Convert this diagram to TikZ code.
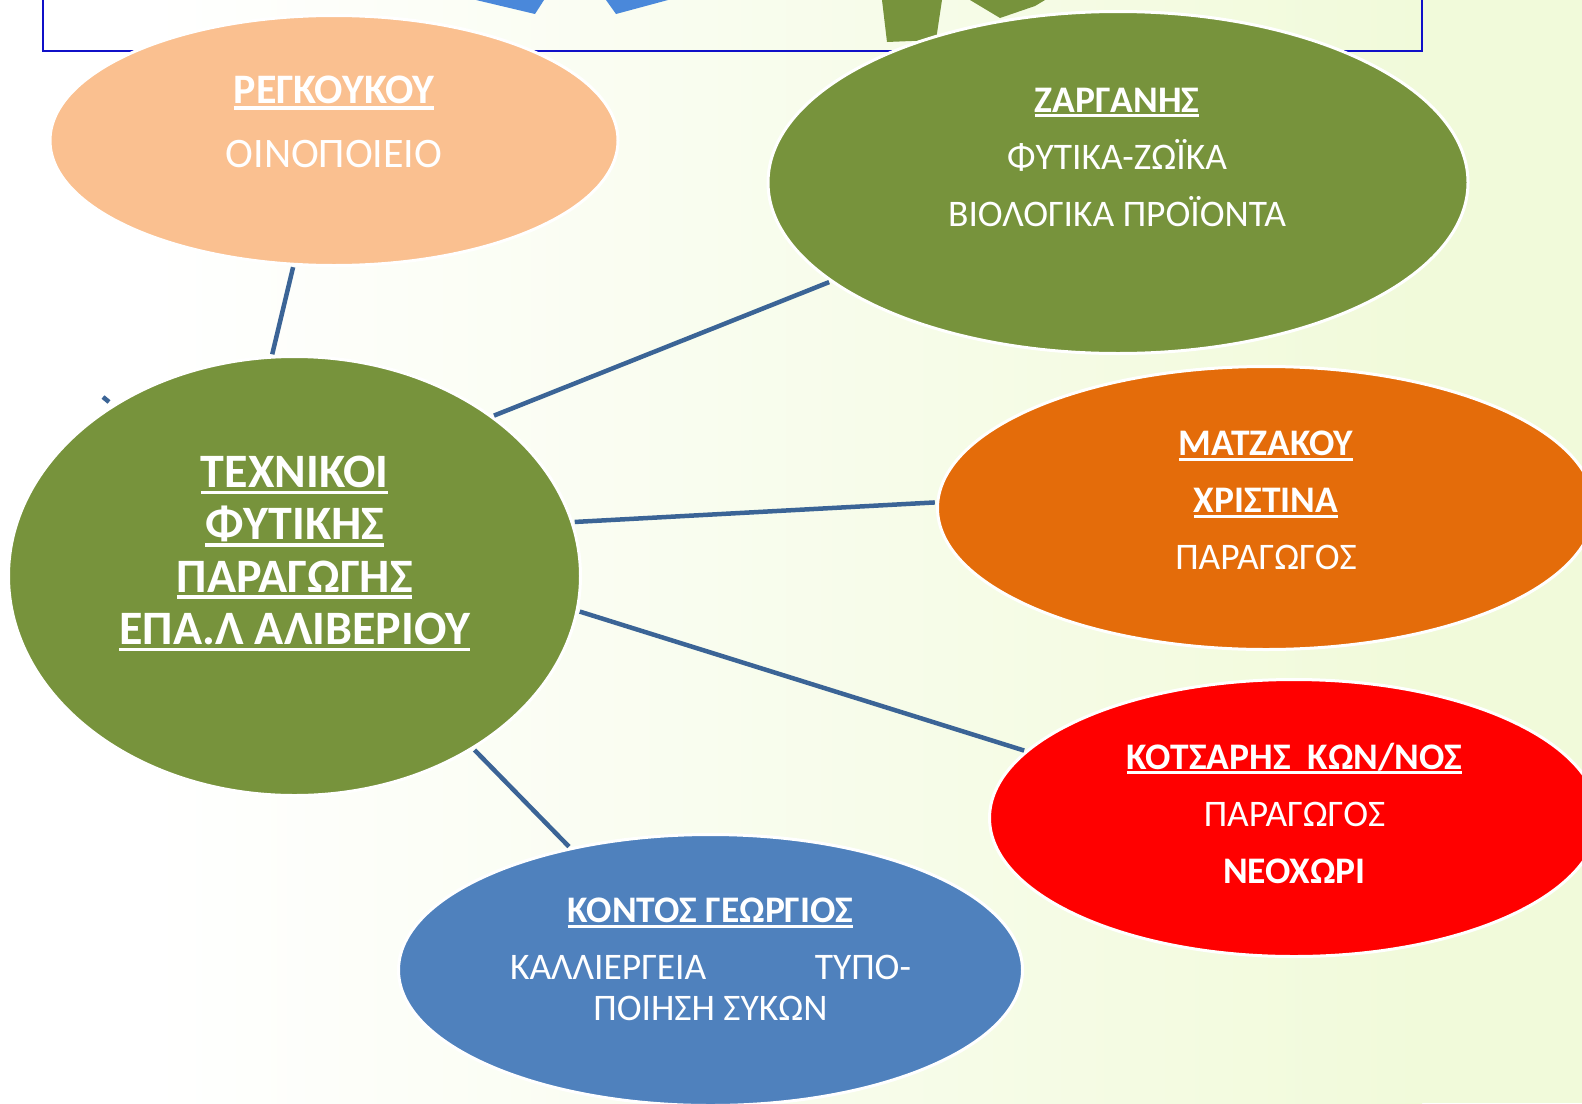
\documentclass[tikz,border=0pt]{standalone}
\usepackage{fontspec}
\setmainfont{Carlito}
\usetikzlibrary{shapes.geometric}

\definecolor{peach}{HTML}{FAC090}
\definecolor{olive}{HTML}{77933C}
\definecolor{pumpkin}{HTML}{E46C0A}
\definecolor{redfill}{HTML}{FF0000}
\definecolor{skyblue}{HTML}{4F81BD}
\definecolor{linkblue}{HTML}{3B6496}
\definecolor{framecol}{HTML}{1010C8}
\definecolor{logoblue}{HTML}{4A88DA}
\definecolor{bgright}{HTML}{F1FADA}

% underline a word, thick and a little low
\newcommand\ulin[1]{\leavevmode\setbox0=\hbox{#1}\rlap{\rule[-0.14em]{\wd0}{0.075em}}\box0}

\tikzset{
  bubble/.style={ellipse, draw=white, line width=3pt, inner sep=0pt, outer sep=0pt},
  txt/.style={text=white, align=center, inner sep=0pt, anchor=north},
  link/.style={draw=linkblue, line width=4.5pt, shorten >=3pt, shorten <=3pt},
  frame/.style={draw=framecol, line width=2.2pt},
}

\begin{document}
\begin{tikzpicture}[x=1pt,y=-1pt]
\clip (0,0) rectangle (1582,1103);

% background
\fill[white] (0,0) rectangle (150,1103);
\shade[left color=white, right color=bgright] (150,0) rectangle (1422,1103);
\fill[bgright] (1422,0) rectangle (1582,1103);

% picture in the frame at the top
\fill[logoblue] (476,0) -- (544,0) -- (535,14) -- cycle;
\fill[logoblue] (606,0) -- (668,0) -- (616,14) -- cycle;
\fill[olive] (882,0) -- (942,0) -- (936,40) -- (887,42) -- cycle;
\fill[olive] (970,0) -- (1045,0) -- (1035,6) -- (1000,18) -- cycle;
\draw[frame] (43,-5) rectangle (1422,51);

% ellipses
\node[bubble, fill=peach, minimum width=568pt, minimum height=250pt] (regk) at (334,140.5) {};
\node[bubble, fill=olive, minimum width=700pt, minimum height=342pt] (zarg) at (1118,182.5) {};
\node[bubble, fill=olive, minimum width=572pt, minimum height=439pt] (tech) at (294.5,576) {};
\node[bubble, fill=pumpkin, minimum width=657pt, minimum height=283pt] (matz) at (1266,508) {};
\node[bubble, fill=redfill, minimum width=609pt, minimum height=277pt] (kots) at (1294,818) {};
\node[bubble, fill=skyblue, minimum width=624pt, minimum height=271pt] (kont) at (710.5,970) {};

% texts
\node[txt, font=\fontsize{42}{63.4}\selectfont] (regk-txt) at (334,76)
  {\textbf{\ulin{ΡΕΓΚΟΥΚΟΥ}}\\ΟΙΝΟΠΟΙΕΙΟ};
\node[txt, font=\fontsize{37.5}{57}\selectfont] (zarg-txt) at (1117,87.5)
  {\textbf{\ulin{ΖΑΡΓΑΝΗΣ}}\\ΦΥΤΙΚΑ-ΖΩΪΚΑ\\ΒΙΟΛΟΓΙΚΑ ΠΡΟΪΟΝΤΑ};
\node[txt, font=\fontsize{48}{52.4}\selectfont\bfseries] (tech-txt) at (294.7,455.7)
  {\ulin{ΤΕΧΝΙΚΟΙ}\\\ulin{ΦΥΤΙΚΗΣ}\\\ulin{ΠΑΡΑΓΩΓΗΣ}\\\ulin{ΕΠΑ.Λ ΑΛΙΒΕΡΙΟΥ}};
\node[txt, font=\fontsize{37.5}{56.7}\selectfont] (matz-txt) at (1266,431)
  {\textbf{\ulin{ΜΑΤΖΑΚΟΥ}}\\\textbf{\ulin{ΧΡΙΣΤΙΝΑ}}\\ΠΑΡΑΓΩΓΟΣ};
\node[txt, font=\fontsize{37.5}{57}\selectfont] (kots-txt) at (1294.5,742.5)
  {\textbf{\ulin{ΚΟΤΣΑΡΗΣ\ \ ΚΩΝ/ΝΟΣ}}\\ΠΑΡΑΓΩΓΟΣ\\\textbf{ΝΕΟΧΩΡΙ}};
\node[txt, font=\fontsize{37.5}{41}\selectfont] (kont-txt) at (710.5,897.5)
  {\textbf{\ulin{ΚΟΝΤΟΣ ΓΕΩΡΓΙΟΣ}}\\[16pt]\hbox to 401pt{ΚΑΛΛΙΕΡΓΕΙΑ\hfill ΤΥΠΟ-}\\ΠΟΙΗΣΗ ΣΥΚΩΝ};

% connectors
\draw[link] (tech.96) -- (regk.252);
\draw[link] (tech.39) -- (zarg.199);
\draw[link] (tech.11) -- (matz.179);
\draw[link] (tech.-7) -- (kots.166);
\draw[link] (tech.-44) -- (kont.139);
\coordinate (tick-a) at (103,397);
\coordinate (tick-b) at (109,402);
\draw[draw=linkblue, line width=4.5pt] (tick-a) -- (tick-b);
\end{tikzpicture}
\end{document}
